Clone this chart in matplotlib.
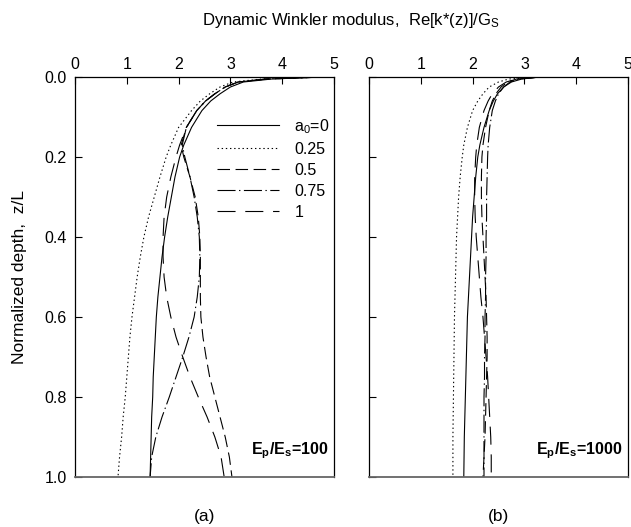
import matplotlib
matplotlib.use("Agg")

import numpy as np
import matplotlib.pyplot as plt

plt.rcParams['font.family'] = ['Liberation Sans', 'DejaVu Sans']
plt.rcParams['mathtext.fontset'] = 'custom'
plt.rcParams['mathtext.rm'] = 'Liberation Sans'
plt.rcParams['mathtext.it'] = 'Liberation Sans:italic'
plt.rcParams['mathtext.bf'] = 'Liberation Sans:bold'
plt.rcParams['mathtext.default'] = 'regular'
plt.rcParams['lines.scale_dashes'] = False

# depth grid, z/L
z = [0, 0.005, 0.0125, 0.025, 0.042, 0.06, 0.084, 0.126, 0.17, 0.2, 0.25, 0.3, 0.35,
     0.4, 0.45, 0.5, 0.55, 0.6, 0.65, 0.7, 0.75, 0.8, 0.85, 0.9, 0.95, 1.0]

labels = ['a$_0$=0', '0.25', '0.5', '0.75', '1']

# (a) Ep/Es = 100
a_k0 = [4.8, 3.8, 3.25, 3.0, 2.8, 2.62, 2.45, 2.25, 2.1, 2.02, 1.93, 1.86, 1.79,
        1.73, 1.68, 1.64, 1.6, 1.57, 1.55, 1.53, 1.51, 1.5, 1.48, 1.47, 1.46, 1.45]
a_k025 = [4.8, 3.6, 3.05, 2.8, 2.6, 2.42, 2.25, 2.0, 1.85, 1.76, 1.64, 1.53, 1.42,
          1.33, 1.26, 1.2, 1.15, 1.1, 1.06, 1.03, 1.0, 0.97, 0.93, 0.9, 0.86, 0.83]
a_k05 = [4.8, 3.7, 3.15, 2.9, 2.7, 2.52, 2.35, 2.15, 2.05, 2.1, 2.22, 2.32, 2.38,
         2.41, 2.42, 2.42, 2.42, 2.43, 2.47, 2.53, 2.6, 2.7, 2.8, 2.9, 2.98, 3.03]
a_k075 = [4.8, 3.7, 3.15, 2.9, 2.7, 2.52, 2.35, 2.15, 2.07, 2.12, 2.22, 2.3, 2.36,
          2.4, 2.41, 2.4, 2.36, 2.3, 2.2, 2.08, 1.95, 1.82, 1.68, 1.56, 1.48, 1.45]
a_k1 = [4.8, 3.7, 3.15, 2.9, 2.7, 2.52, 2.35, 2.15, 2.02, 1.95, 1.85, 1.77, 1.72,
        1.7, 1.7, 1.72, 1.77, 1.85, 1.95, 2.08, 2.22, 2.38, 2.55, 2.7, 2.82, 2.88]

# (b) Ep/Es = 1000
b_k0 = [3.3, 2.95, 2.75, 2.6, 2.48, 2.4, 2.32, 2.22, 2.14, 2.1, 2.06, 2.03, 2.0,
        1.98, 1.96, 1.94, 1.92, 1.9, 1.89, 1.88, 1.87, 1.86, 1.85, 1.84, 1.835, 1.83]
b_k025 = [3.3, 2.7, 2.5, 2.32, 2.2, 2.1, 2.0, 1.9, 1.83, 1.8, 1.76, 1.73, 1.71,
          1.69, 1.68, 1.67, 1.66, 1.65, 1.645, 1.64, 1.635, 1.63, 1.625, 1.62, 1.62, 1.62]
b_k05 = [3.3, 2.85, 2.68, 2.55, 2.45, 2.38, 2.32, 2.25, 2.2, 2.18, 2.17, 2.17, 2.18,
         2.2, 2.22, 2.24, 2.26, 2.27, 2.28, 2.28, 2.27, 2.26, 2.25, 2.24, 2.22, 2.2]
b_k075 = [3.3, 2.9, 2.72, 2.6, 2.5, 2.44, 2.38, 2.33, 2.3, 2.29, 2.28, 2.27, 2.27,
          2.26, 2.26, 2.25, 2.25, 2.24, 2.24, 2.23, 2.23, 2.22, 2.22, 2.22, 2.22, 2.22]
b_k1 = [3.3, 2.85, 2.65, 2.5, 2.38, 2.3, 2.22, 2.13, 2.08, 2.06, 2.04, 2.04, 2.05,
        2.07, 2.1, 2.13, 2.16, 2.2, 2.23, 2.26, 2.29, 2.31, 2.33, 2.35, 2.36, 2.36]

styles = ['-', (0, (1, 2)), (0, (9, 4)), (0, (13, 2.5, 1, 2.5)), (0, (13, 7))]

fig = plt.figure(figsize=(6.31, 5.27), dpi=100)
ax1 = fig.add_axes([75/631, 50/527, 259/631, 400/527])
ax2 = fig.add_axes([369/631, 50/527, 259/631, 400/527])

for ax, series, note in [(ax1, [a_k0, a_k025, a_k05, a_k075, a_k1], 'E$_p$/E$_s$=100'),
                         (ax2, [b_k0, b_k025, b_k05, b_k075, b_k1], 'E$_p$/E$_s$=1000')]:
    for vals, ls, lab in zip(series, styles, labels):
        ax.plot(vals, z, color='black', lw=0.8, linestyle=ls, label=lab)
    ax.set_xlim(0, 5)
    ax.set_ylim(1, 0)
    ax.xaxis.tick_top()
    ax.set_xticks(range(6))
    ax.set_yticks(np.arange(0, 1.01, 0.2))
    ax.yaxis.set_major_formatter(matplotlib.ticker.FormatStrFormatter('%.1f'))
    ax.tick_params(direction='in', length=5, width=0.8, labelsize=11.5, top=True,
                   bottom=False, right=False)
    ax.tick_params(axis='y', pad=6)
    for s in ['top', 'left', 'right']:
        ax.spines[s].set_linewidth(0.9)
    ax.spines['bottom'].set_color('#666666')
    ax.spines['bottom'].set_linewidth(1.3)
    ax.text(0.98, 0.04, note, transform=ax.transAxes, fontweight='bold',
            ha='right', va='bottom', fontsize=11.5)

ax2.tick_params(axis='y', labelleft=False)

ax1.legend(loc='upper left', bbox_to_anchor=(0.548, 0.9), frameon=False,
           fontsize=11.5, handlelength=3.9, handletextpad=0.95, labelspacing=0.38,
           borderpad=0, borderaxespad=0)

fig.text(351/631, 1 - 20/527, 'Dynamic Winkler modulus,  Re[k*(z)]/G$_S$',
         ha='center', va='center', fontsize=12)
fig.text(20/631, 1 - 277/527, 'Normalized depth,  z/L', rotation=90,
         ha='center', va='center', fontsize=12.5)
fig.text(204.5/631, 1 - 516/527, '(a)', ha='center', va='center', fontsize=12.5)
fig.text(498.5/631, 1 - 516/527, '(b)', ha='center', va='center', fontsize=12.5)

fig.savefig('out.png', dpi=100)
